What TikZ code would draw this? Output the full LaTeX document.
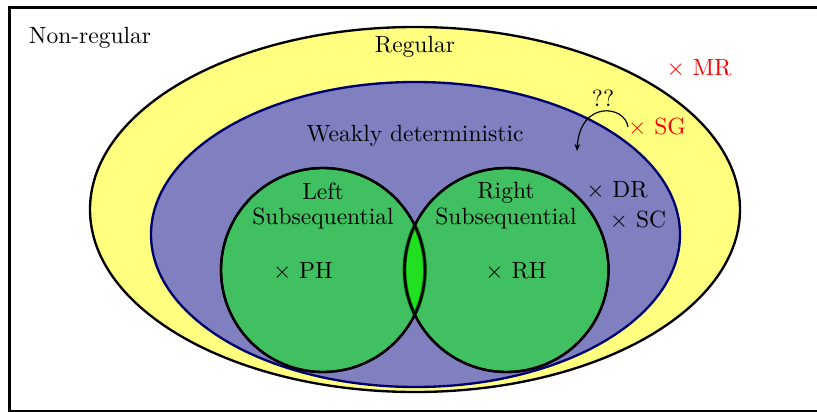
\documentclass[tikz,border=0pt]{standalone}
\usetikzlibrary{arrows.meta}
\definecolor{regy}{RGB}{255,255,128}
\definecolor{wdb}{RGB}{128,128,192}
\definecolor{navy}{RGB}{0,0,110}
\definecolor{subg}{RGB}{64,192,96}
\definecolor{lens}{RGB}{32,224,32}
\definecolor{dgreen}{RGB}{0,110,0}
\begin{document}
\begin{tikzpicture}[x=0.4255pt,y=-0.4255pt,
  lbl/.style={inner sep=0pt,font=\normalsize},
  redlbl/.style={lbl,text=red},
  setline/.style={line width=1pt}]
\useasboundingbox (0,0) rectangle (817,411);
\clip (0,0) rectangle (817,411);
\draw[line width=1.4pt] (9.5,7.5) rectangle (840,411.5);
\node[lbl] (nonreg) at (90,38) {Non-regular};
% Regular
\draw[setline,fill=regy] (415,209.5) ellipse [x radius=325, y radius=182.5];
\node[lbl] (reg) at (415,47) {Regular};
% Weakly deterministic
\draw[setline,draw=navy,fill=wdb] (415.5,234.5) ellipse [x radius=264.5, y radius=152.5];
\node[lbl] (wd) at (415,136) {Weakly deterministic};
% circles
\draw[setline,fill=subg] (323,270) circle [radius=102];
\draw[setline,fill=subg] (506.5,270) circle [radius=102];
\begin{scope}
  \clip (323,270) circle [radius=102];
  \fill[lens] (506.5,270) circle [radius=102];
\end{scope}
\begin{scope}
  \clip (323,270) circle [radius=102];
  \draw[line width=1.6pt,dgreen] (506.5,270) circle [radius=102];
\end{scope}
\begin{scope}
  \clip (506.5,270) circle [radius=102];
  \draw[line width=1.6pt,dgreen] (323,270) circle [radius=102];
\end{scope}
\draw[setline] (323,270) circle [radius=102];
\draw[setline] (506.5,270) circle [radius=102];
\node[lbl,align=center] (ls) at (323,206) {Left\\[-1pt]Subsequential};
\node[lbl,align=center] (rs) at (506,206) {Right\\[-1pt]Subsequential};
\node[lbl] (ph) at (303,271) {$\times$ PH};
\node[lbl] (rh) at (516,271) {$\times$ RH};
\node[lbl] (dr) at (617,190) {$\times$ DR};
\node[lbl] (sc) at (638,220) {$\times$ SC};
\node[redlbl] (mr) at (699,68) {$\times$ MR};
\node[redlbl] (sg) at (657,127) {$\times$ SG};
\node[lbl] (qq) at (603,98) {??};
\coordinate (arrs) at (628,127);
\coordinate (arre) at (577,151);
\draw[-{Stealth[length=3pt,width=2.5pt]},line width=0.5pt] (arrs) .. controls (625,105) and (580,100) .. (arre);
\end{tikzpicture}
\end{document}
